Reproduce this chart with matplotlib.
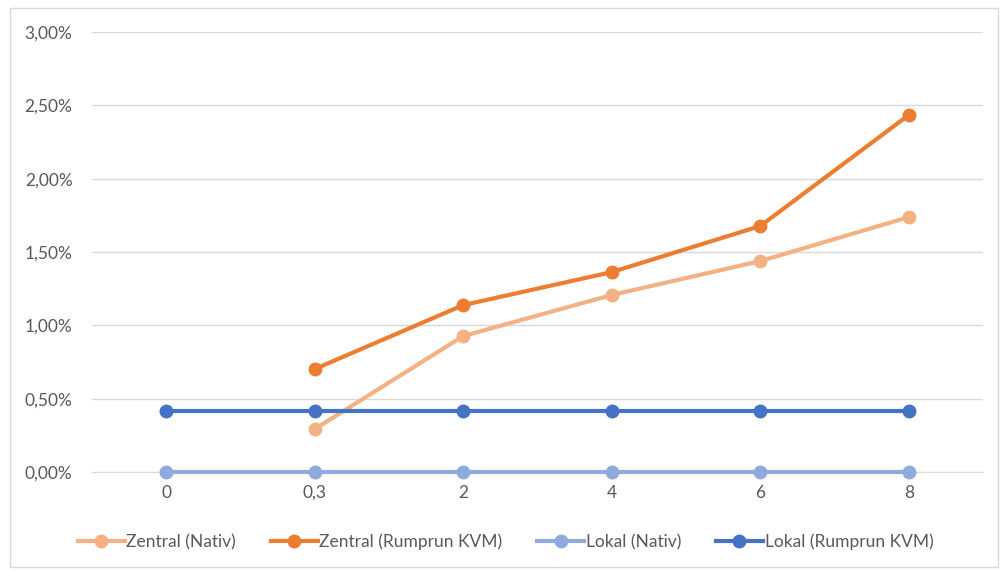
import matplotlib

matplotlib.use("Agg")
import matplotlib.pyplot as plt
from matplotlib.patches import Rectangle
from matplotlib.ticker import FuncFormatter

plt.rcParams["font.family"] = ["Lato", "DejaVu Sans"]

categories = ["0", "0,3", "2", "4", "6", "8"]
zentral_nativ = [None, 0.293, 0.927, 1.207, 1.438, 1.738]
zentral_kvm = [None, 0.702, 1.138, 1.363, 1.677, 2.434]
lokal_nativ = [0.0, 0.0, 0.0, 0.0, 0.0, 0.0]
lokal_kvm = [0.416, 0.416, 0.416, 0.416, 0.416, 0.416]

series = [
    ("Zentral (Nativ)", zentral_nativ, "#F4B183"),
    ("Zentral (Rumprun KVM)", zentral_kvm, "#ED7D31"),
    ("Lokal (Nativ)", lokal_nativ, "#8FAADC"),
    ("Lokal (Rumprun KVM)", lokal_kvm, "#4472C4"),
]

text_color = "#595959"
fs = 12.5
fig = plt.figure(figsize=(10.01, 5.70), dpi=100)
ax = fig.add_axes([92 / 1001, 1 - 472 / 570, 891 / 1001, 440 / 570])

x = list(range(len(categories)))
for label, values, color in series:
    # series without a value at a category just start later
    pts = [(xi, v) for xi, v in zip(x, values) if v is not None]
    ax.plot([p[0] for p in pts], [p[1] for p in pts], color=color, lw=3.0,
            marker="o", ms=9, label=label, clip_on=False, zorder=3)

ax.set_xlim(-0.5, len(categories) - 0.5)
ax.set_ylim(0, 3.0)
ax.set_yticks([0, 0.5, 1.0, 1.5, 2.0, 2.5, 3.0])
ax.yaxis.set_major_formatter(FuncFormatter(lambda v, _: f"{v:.2f}%".replace(".", ",")))
ax.set_xticks(x, labels=categories)
ax.grid(axis="y", color="#D9D9D9", lw=1.0)
ax.set_axisbelow(True)
for side in ["top", "right", "left"]:
    ax.spines[side].set_visible(False)
ax.spines["bottom"].set_color("#D9D9D9")
ax.tick_params(axis="y", length=0, pad=14, labelsize=fs, labelcolor=text_color)
ax.tick_params(axis="x", length=0, pad=9, labelsize=fs, labelcolor=text_color)

fig.legend(loc="center", bbox_to_anchor=(0.505, 1 - 542 / 570), ncol=4, frameon=False,
           fontsize=fs, labelcolor=text_color, handlelength=2.7, handletextpad=0.1,
           columnspacing=2.0)

# thin chart-area frame
fig.patches.append(Rectangle((10 / 1001, 3 / 570), 988 / 1001, 559 / 570,
                             transform=fig.transFigure, fill=False,
                             edgecolor="#D9D9D9", lw=1.0))

fig.savefig("out.png", dpi=100)
